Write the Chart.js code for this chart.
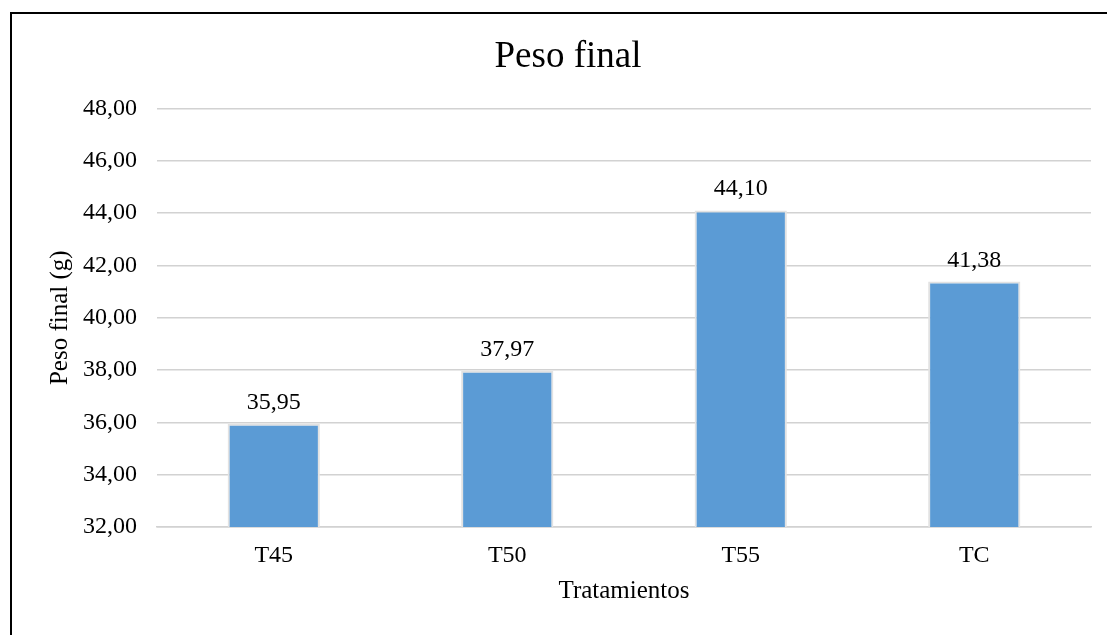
<!DOCTYPE html>
<html>
<head>
<meta charset="utf-8">
<style>
  html, body { margin: 0; padding: 0; background: #fff; overflow: hidden; }
  #wrap { position: relative; width: 1107px; height: 635px; }
  canvas { display: block; }
</style>
<script src="https://cdn.jsdelivr.net/npm/chart.js@4/dist/chart.umd.min.js"></script>
</head>
<body>
<div id="wrap"><canvas id="chart" width="1107" height="635"></canvas></div>
<script>
// Final weight per treatment (g)
const categories = ['T45', 'T50', 'T55', 'TC'];
const pesoFinal = [35.95, 37.97, 44.10, 41.38];
const yTicks = [32, 34, 36, 38, 40, 42, 44, 46, 48];

const chartTitle = 'Peso final';
const yTitle = 'Peso final (g)';
const xTitle = 'Tratamientos';

const serif = "'Liberation Serif', 'Times New Roman', serif";
const fmt = v => Number(v).toFixed(2).replace('.', ',');

// Value labels above each bar
const barValueLabels = {
  id: 'barValueLabels',
  afterDatasetsDraw(chart) {
    const ctx = chart.ctx;
    const meta = chart.getDatasetMeta(0);
    ctx.save();
    ctx.font = '24px ' + serif;
    ctx.fillStyle = '#000';
    ctx.textAlign = 'center';
    ctx.textBaseline = 'alphabetic';
    meta.data.forEach((bar, i) => {
      ctx.fillText(fmt(chart.data.datasets[0].data[i]), bar.x, bar.y - 15);
    });
    ctx.restore();
  }
};

// Frame lines along the top and left edges
const frame = {
  id: 'frame',
  afterDraw(chart) {
    const ctx = chart.ctx;
    ctx.save();
    ctx.fillStyle = '#000';
    ctx.fillRect(10, 12, chart.width, 2);
    ctx.fillRect(10, 12, 2, chart.height);
    ctx.restore();
  }
};

new Chart(document.getElementById('chart'), {
  type: 'bar',
  data: {
    labels: categories,
    datasets: [{
      data: pesoFinal,
      backgroundColor: '#5B9BD5',
      borderColor: '#e2e2e2',
      borderWidth: 2,
      barPercentage: 0.395,
      categoryPercentage: 1
    }]
  },
  options: {
    responsive: false,
    animation: false,
    devicePixelRatio: 1,
    layout: { padding: { top: 10, left: 45, right: 16, bottom: 20 } },
    plugins: {
      legend: { display: false },
      tooltip: { enabled: false },
      title: {
        display: true,
        text: chartTitle,
        color: '#000',
        font: { family: serif, size: 37, weight: 'normal' },
        padding: { top: 25, bottom: 29 }
      }
    },
    scales: {
      x: {
        grid: { display: false, drawTicks: false },
        border: { display: true, color: '#d2d2d2', width: 1.5 },
        ticks: {
          color: '#000',
          font: { family: serif, size: 24 },
          padding: 14
        },
        title: {
          display: true,
          text: xTitle,
          color: '#000',
          font: { family: serif, size: 25 },
          padding: { top: 0, bottom: 9 }
        },
        afterFit(scale) { scale.height = 88; }
      },
      y: {
        min: 32,
        max: 48,
        afterBuildTicks(scale) { scale.ticks = yTicks.map(v => ({ value: v })); },
        grid: { color: '#d2d2d2', lineWidth: 1.5, drawTicks: false },
        border: { display: false },
        ticks: {
          color: '#000',
          font: { family: serif, size: 24 },
          padding: 20,
          callback: v => fmt(v)
        },
        title: {
          display: true,
          text: yTitle,
          color: '#000',
          font: { family: serif, size: 25 },
          padding: { top: 0, bottom: 0 }
        },
        afterFit(scale) { scale.width = 112; }
      }
    }
  },
  plugins: [barValueLabels, frame]
});
</script>
</body>
</html>
